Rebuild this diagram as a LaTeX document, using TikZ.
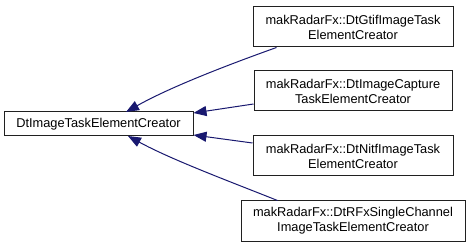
\documentclass[tikz,border=0pt]{standalone}
\usepackage{fontspec}
\setmainfont{Liberation Sans}
\usetikzlibrary{arrows.meta}
\definecolor{edgecol}{HTML}{191970}
\definecolor{boxline}{HTML}{202020}
\begin{document}
\begin{tikzpicture}[x=1pt,y=-1pt,
  cls/.style={draw=boxline,line width=1pt,fill=white,inner sep=0pt,align=center,
    font=\fontsize{12.8}{15}\selectfont},
  inh/.style={draw=edgecol,line width=1pt,-{Triangle[length=13pt,width=10pt,fill=edgecol]}}]
\useasboundingbox (0,0) rectangle (471,248);
\fill[white] (0,0) rectangle (471,248);
\node[cls,minimum width=189pt,minimum height=24pt] (base) at (98.5,124) {DtImageTaskElementCreator};
\node[cls,minimum width=200pt,minimum height=40pt] (gtif) at (353,27) {makRadarFx::DtGtifImageTask\\ElementCreator};
\node[cls,minimum width=198pt,minimum height=40pt] (capt) at (353,91) {makRadarFx::DtImageCapture\\TaskElementCreator};
\node[cls,minimum width=200pt,minimum height=40pt] (nitf) at (353,156) {makRadarFx::DtNitfImageTask\\ElementCreator};
\node[cls,minimum width=224pt,minimum height=40pt] (rfx) at (353,221) {makRadarFx::DtRFxSingleChannel\\ImageTaskElementCreator};
\coordinate (t1) at (126,112);
\coordinate (t2) at (193.5,113);
\coordinate (t3) at (193.5,135);
\coordinate (t4) at (128,136);
\draw[inh] (gtif.south west) ++(24,0) .. controls +(-42,15) and (172,86) .. (t1);
\draw[inh] (capt.west |- 0,104) -- (t2);
\draw[inh] (nitf.west |- 0,143) -- (t3);
\draw[inh] (rfx.north west) ++(37,0) .. controls +(-45,-18) and (172,160) .. (t4);
\end{tikzpicture}
\end{document}
